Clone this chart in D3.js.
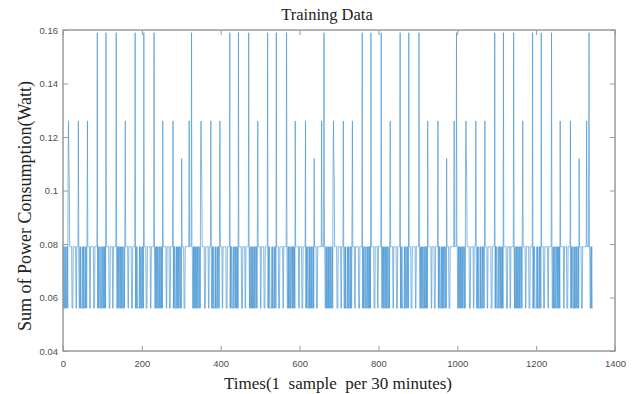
<!DOCTYPE html>
<html>
<head>
<meta charset="utf-8">
<script src="https://cdn.jsdelivr.net/npm/d3@7"></script>
<style>
  body { margin: 0; background: #fff; }
</style>
</head>
<body>
<div id="chart"></div>
<script>
const chartTitle = 'Training Data'
const xLabel = 'Times(1  sample  per 30 minutes)'
const yLabel = 'Sum of Power Consumption(Watt)'
const xTicks = [0, 200, 400, 600, 800, 1000, 1200, 1400]
const yTicks = [0.04, 0.06, 0.08, 0.1, 0.12, 0.14, 0.16]

const weekCount = 4

// one week, 48 samples per day, as [value, run length]
const weekRuns = [
  // day 0
  [0.079, 1], [0.056, 1], [0.079, 1], [0.056, 2], [0.079, 1], [0.056, 1], [0.079, 2], [0.056, 2], [0.079, 1], [0.056, 1],
  [0.112, 1], [0.126, 1], [0.112, 1], [0.103, 1],
  [0.079, 6], [0.056, 3], [0.079, 7], [0.056, 2], [0.079, 4],
  [0.126, 1],
  [0.079, 1], [0.056, 2], [0.079, 1], [0.056, 1], [0.079, 1], [0.056, 2],
  // day 1
  [0.056, 2], [0.079, 1], [0.056, 1], [0.079, 1], [0.056, 3], [0.079, 1], [0.056, 1], [0.079, 2], [0.056, 1],
  [0.089, 1], [0.126, 1],
  [0.079, 5], [0.056, 2], [0.079, 8], [0.056, 3], [0.079, 6],
  [0.159, 1],
  [0.056, 1], [0.079, 1], [0.056, 1], [0.079, 2], [0.056, 3],
  // day 2
  [0.079, 1], [0.056, 2], [0.079, 2], [0.056, 1], [0.079, 1], [0.056, 2], [0.079, 1], [0.056, 1], [0.079, 1], [0.056, 1],
  [0.159, 1],
  [0.079, 7], [0.056, 3], [0.079, 6], [0.056, 2], [0.079, 7],
  [0.159, 1],
  [0.079, 1], [0.056, 1], [0.079, 1], [0.056, 2], [0.079, 1], [0.056, 1], [0.079, 1],
  // day 3
  [0.079, 1], [0.056, 1], [0.079, 1], [0.056, 2], [0.079, 1], [0.056, 1], [0.079, 2], [0.056, 2], [0.079, 1], [0.056, 1],
  [0.089, 1], [0.126, 1],
  [0.079, 6], [0.056, 2], [0.079, 7], [0.056, 3], [0.079, 6],
  [0.159, 1],
  [0.056, 1], [0.079, 1], [0.056, 1], [0.079, 2], [0.056, 3],
  // day 4
  [0.056, 2], [0.079, 1], [0.056, 1], [0.079, 1], [0.056, 3], [0.079, 1], [0.056, 1], [0.079, 2], [0.056, 1],
  [0.159, 1],
  [0.079, 5], [0.056, 3], [0.079, 8], [0.056, 2], [0.079, 7],
  [0.159, 1],
  [0.079, 1], [0.056, 2], [0.079, 1], [0.056, 1], [0.079, 1], [0.056, 2],
  // day 5
  [0.079, 1], [0.056, 2], [0.079, 2], [0.056, 1], [0.079, 1], [0.056, 2], [0.079, 1], [0.056, 1], [0.079, 1], [0.056, 1],
  [0.126, 1],
  [0.079, 8], [0.056, 2], [0.079, 6], [0.056, 3], [0.079, 6],
  [0.126, 1],
  [0.056, 1], [0.079, 1], [0.056, 1], [0.079, 2], [0.056, 3],
  // day 6
  [0.079, 1], [0.056, 1], [0.079, 1], [0.056, 2], [0.079, 1], [0.056, 1], [0.079, 2], [0.056, 2], [0.079, 1], [0.056, 1],
  [0.112, 1],
  [0.079, 5], [0.056, 3], [0.079, 10],
  [0.126, 1], [0.079, 5], [0.159, 1], [0.079, 1],
  [0.079, 1], [0.056, 2], [0.079, 1], [0.056, 1], [0.079, 1], [0.056, 2]
]

const width = 634
const height = 394
const margin = { top: 30, right: 19, bottom: 43, left: 63 }

// Expand the runs into one sample per half hour
const values = []
for (let w = 0; w < weekCount; w++) {
  weekRuns.forEach(([v, n]) => {
    for (let k = 0; k < n; k++) values.push(v)
  })
}
const data = values.map((v, i) => ({ t: i, v }))

const x = d3.scaleLinear()
  .domain([0, 1400])
  .range([margin.left, width - margin.right])

const y = d3.scaleLinear()
  .domain([0.04, 0.16])
  .range([height - margin.bottom, margin.top])

const svg = d3.select('#chart')
  .append('svg')
  .attr('width', width)
  .attr('height', height)
  .attr('viewBox', [0, 0, width, height])

const axisColor = '#9a9a9a'
const tickFont = '"Liberation Sans", Arial, sans-serif'

// The signal
const line = d3.line()
  .x(d => x(d.t))
  .y(d => y(d.v))

svg.append('path')
  .datum(data)
  .attr('fill', 'none')
  .attr('stroke', '#4c9ad5')
  .attr('stroke-width', 0.7)
  .attr('d', line)

// Bottom axis with labels, ticks pointing inward
svg.append('g')
  .attr('transform', `translate(0,${height - margin.bottom})`)
  .call(d3.axisBottom(x).tickValues(xTicks).tickFormat(d3.format('d')).tickSizeInner(-5).tickSizeOuter(0).tickPadding(9))
  .call(g => g.select('.domain').remove())
  .call(g => g.selectAll('.tick line').attr('stroke', axisColor))
  .call(g => g.selectAll('.tick text').attr('fill', '#4d4d4d').attr('font-size', 9.5).attr('font-family', tickFont))

// Left axis with labels
svg.append('g')
  .attr('transform', `translate(${margin.left},0)`)
  .call(d3.axisLeft(y).tickValues(yTicks).tickFormat(d => +d.toFixed(2)).tickSizeInner(-5).tickSizeOuter(0).tickPadding(5))
  .call(g => g.select('.domain').remove())
  .call(g => g.selectAll('.tick line').attr('stroke', axisColor))
  .call(g => g.selectAll('.tick text').attr('fill', '#4d4d4d').attr('font-size', 9.5).attr('font-family', tickFont))

// Top and right ticks, no labels (box on)
svg.append('g')
  .attr('transform', `translate(0,${margin.top})`)
  .call(d3.axisTop(x).tickValues(xTicks).tickSizeInner(-5).tickSizeOuter(0).tickFormat(''))
  .call(g => g.select('.domain').remove())
  .call(g => g.selectAll('.tick line').attr('stroke', axisColor))

svg.append('g')
  .attr('transform', `translate(${width - margin.right},0)`)
  .call(d3.axisRight(y).tickValues(yTicks).tickSizeInner(-5).tickSizeOuter(0).tickFormat(''))
  .call(g => g.select('.domain').remove())
  .call(g => g.selectAll('.tick line').attr('stroke', axisColor))

// Axes box
svg.append('rect')
  .attr('x', margin.left)
  .attr('y', margin.top)
  .attr('width', width - margin.left - margin.right)
  .attr('height', height - margin.top - margin.bottom)
  .attr('fill', 'none')
  .attr('stroke', axisColor)
  .attr('stroke-width', 1.5)

// Title and axis labels
svg.append('text')
  .attr('x', 327)
  .attr('y', 20)
  .attr('text-anchor', 'middle')
  .attr('font-family', '"Liberation Serif", "Times New Roman", serif')
  .attr('font-size', 16.5)
  .attr('fill', '#222')
  .text(chartTitle)

svg.append('text')
  .attr('x', 338)
  .attr('y', 389)
  .attr('text-anchor', 'middle')
  .attr('font-family', '"Liberation Serif", "Times New Roman", serif')
  .attr('font-size', 17)
  .attr('fill', '#222')
  .style('white-space', 'pre')
  .text(xLabel)

svg.append('text')
  .attr('transform', 'translate(31,206) rotate(-90)')
  .attr('text-anchor', 'middle')
  .attr('font-family', '"Liberation Serif", "Times New Roman", serif')
  .attr('font-size', 18)
  .attr('fill', '#222')
  .text(yLabel)
</script>
</body>
</html>
